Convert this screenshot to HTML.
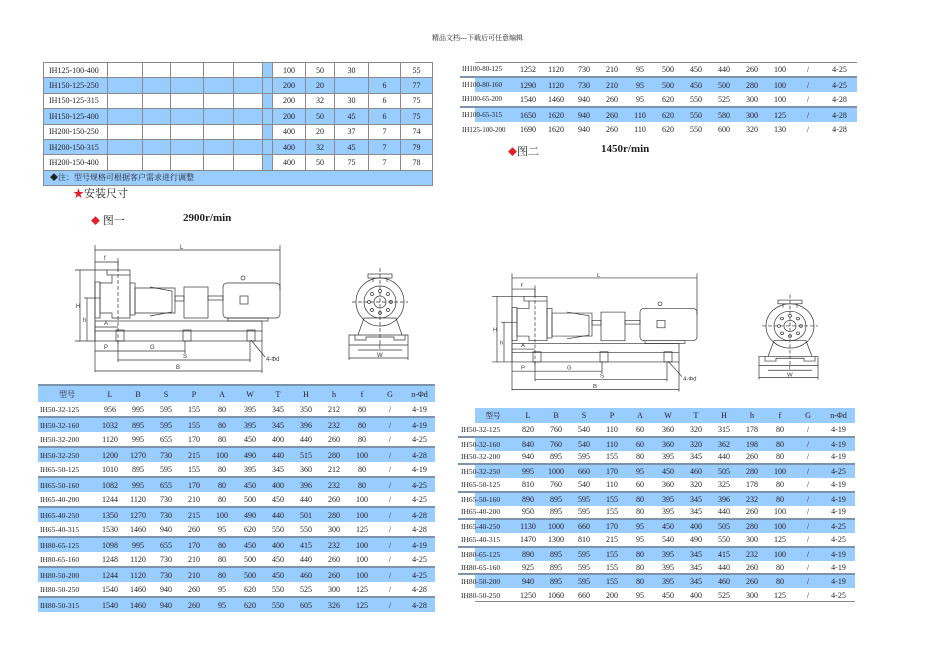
<!DOCTYPE html>
<html><head><meta charset="utf-8">
<style>
*{margin:0;padding:0;box-sizing:border-box}
body{width:950px;height:672px;background:#fff;position:relative;overflow:hidden;font-family:"Liberation Serif","Noto Serif CJK SC",serif;color:#222}
.abs{position:absolute}
table{border-collapse:collapse;table-layout:fixed;position:absolute}
td{font-size:8px;text-align:center;padding:0;white-space:nowrap;overflow:hidden}
.t1 td{border:1px solid #8a8a8a;height:15.4px}
.t1 td.n{text-align:left;padding-left:5px}
.b{background:#99ccff}
.t2 td{height:15px}
.t2 tr.b td{border-top:2px solid #7b93ab}
.t2 td.n{text-align:left;padding-left:2px;font-size:7.5px}
.t3 td{height:13.77px}
.t3 td.n{text-align:left;padding-left:3px;font-size:7.5px}
.t3 tr.b td{background:#99ccff;border-top:2px solid #7b93ab}
.t3 tr.b td.n{background:linear-gradient(90deg,#fff 17px,#99ccff 17px)}
.t3 tr.h td{background:#99ccff;height:15px}
.t3 tr.h td.n{background:linear-gradient(90deg,#fff 17px,#99ccff 17px);text-align:center;padding-left:14px}
.t4 td{height:15px}
.t4 td.n{text-align:left;padding-left:2px;font-size:7px}
.t4 tr.b td{background:#99ccff;border-top:2px solid #7b93ab}
.t4 tr.b td.n{background:linear-gradient(90deg,#fff 15px,#99ccff 15px)}
.lbl{font-size:11px}
.red{color:#e0202a}
</style></head><body>

<div class="abs" style="left:432px;top:33px;font-size:7px;">精品文档---下载后可任意编辑</div>

<table class="t1" style="left:43px;top:62px;width:389px">
<colgroup><col style="width:64px"><col style="width:35px"><col style="width:28px"><col style="width:33px"><col style="width:30px"><col style="width:29px"><col style="width:10px"><col style="width:33px"><col style="width:29px"><col style="width:34px"><col style="width:32px"><col style="width:32px"></colgroup>
<tr><td class="n">IH125-100-400</td><td></td><td></td><td></td><td></td><td></td><td class="b"></td><td>100</td><td>50</td><td>30</td><td></td><td>55</td></tr>
<tr class="b"><td class="n">IH150-125-250</td><td></td><td></td><td></td><td></td><td></td><td></td><td>200</td><td>20</td><td></td><td>6</td><td>77</td></tr>
<tr><td class="n">IH150-125-315</td><td></td><td></td><td></td><td></td><td></td><td class="b"></td><td>200</td><td>32</td><td>30</td><td>6</td><td>75</td></tr>
<tr class="b"><td class="n">IH150-125-400</td><td></td><td></td><td></td><td></td><td></td><td></td><td>200</td><td>50</td><td>45</td><td>6</td><td>75</td></tr>
<tr><td class="n">IH200-150-250</td><td></td><td></td><td></td><td></td><td></td><td class="b"></td><td>400</td><td>20</td><td>37</td><td>7</td><td>74</td></tr>
<tr class="b"><td class="n">IH200-150-315</td><td></td><td></td><td></td><td></td><td></td><td></td><td>400</td><td>32</td><td>45</td><td>7</td><td>79</td></tr>
<tr><td class="n">IH200-150-400</td><td></td><td></td><td></td><td></td><td></td><td class="b"></td><td>400</td><td>50</td><td>75</td><td>7</td><td>78</td></tr>
<tr class="b"><td class="n" colspan="12" style="padding-left:6px">◆注：型号规格可根据客户需求进行调整</td></tr>
</table>

<div class="abs lbl" style="left:73px;top:185px"><span class="red">★</span>安装尺寸</div>
<div class="abs lbl" style="left:91px;top:212px"><span class="red" style="font-size:9px">◆</span> 图一</div>
<div class="abs" style="left:183px;top:212px;font-size:11px;font-weight:bold">2900r/min</div>

<div class="abs" style="left:475px;top:62px;width:382px;border-top:1px solid #888"></div>
<table class="t4" style="left:460px;top:62px;width:397px">
<colgroup><col style="width:54px"><col style="width:28px"><col style="width:28px"><col style="width:28px"><col style="width:28px"><col style="width:28px"><col style="width:28px"><col style="width:28px"><col style="width:28px"><col style="width:28px"><col style="width:28px"><col style="width:28px"><col style="width:35px"></colgroup>
<tr><td class="n">IH100-80-125</td><td>1252</td><td>1120</td><td>730</td><td>210</td><td>95</td><td>500</td><td>450</td><td>440</td><td>260</td><td>100</td><td>/</td><td>4-25</td></tr>
<tr class="b"><td class="n">IH100-80-160</td><td>1290</td><td>1120</td><td>730</td><td>210</td><td>95</td><td>500</td><td>450</td><td>500</td><td>280</td><td>100</td><td>/</td><td>4-25</td></tr>
<tr><td class="n">IH100-65-200</td><td>1540</td><td>1460</td><td>940</td><td>260</td><td>95</td><td>620</td><td>550</td><td>525</td><td>300</td><td>100</td><td>/</td><td>4-28</td></tr>
<tr class="b"><td class="n">IH100-65-315</td><td>1650</td><td>1620</td><td>940</td><td>260</td><td>110</td><td>620</td><td>550</td><td>580</td><td>300</td><td>125</td><td>/</td><td>4-28</td></tr>
<tr><td class="n">IH125-100-200</td><td>1690</td><td>1620</td><td>940</td><td>260</td><td>110</td><td>620</td><td>550</td><td>600</td><td>320</td><td>130</td><td>/</td><td>4-28</td></tr>
</table>
<div class="abs lbl" style="left:508px;top:143px"><span class="red" style="font-size:9px">◆</span>图二</div>
<div class="abs" style="left:601px;top:143px;font-size:11px;font-weight:bold">1450r/min</div>

<table class="t2" style="left:38px;top:384px;width:397px">
<colgroup><col style="width:58px"><col style="width:28px"><col style="width:28px"><col style="width:28px"><col style="width:28px"><col style="width:28px"><col style="width:28px"><col style="width:28px"><col style="width:28px"><col style="width:28px"><col style="width:28px"><col style="width:28px"><col style="width:31px"></colgroup>
<tr class="b"><td style="height:17px">型号</td><td>L</td><td>B</td><td>S</td><td>P</td><td>A</td><td>W</td><td>T</td><td>H</td><td>h</td><td>f</td><td>G</td><td>n-Φd</td></tr>
<tr><td class="n">IH50-32-125</td><td>956</td><td>995</td><td>595</td><td>155</td><td>80</td><td>395</td><td>345</td><td>350</td><td>212</td><td>80</td><td>/</td><td>4-19</td></tr>
<tr class="b"><td class="n">IH50-32-160</td><td>1032</td><td>895</td><td>595</td><td>155</td><td>80</td><td>395</td><td>345</td><td>396</td><td>232</td><td>80</td><td>/</td><td>4-19</td></tr>
<tr><td class="n">IH50-32-200</td><td>1120</td><td>995</td><td>655</td><td>170</td><td>80</td><td>450</td><td>400</td><td>440</td><td>260</td><td>80</td><td>/</td><td>4-25</td></tr>
<tr class="b"><td class="n">IH50-32-250</td><td>1200</td><td>1270</td><td>730</td><td>215</td><td>100</td><td>490</td><td>440</td><td>515</td><td>280</td><td>100</td><td>/</td><td>4-28</td></tr>
<tr><td class="n">IH65-50-125</td><td>1010</td><td>895</td><td>595</td><td>155</td><td>80</td><td>395</td><td>345</td><td>360</td><td>212</td><td>80</td><td>/</td><td>4-19</td></tr>
<tr class="b"><td class="n">IH65-50-160</td><td>1082</td><td>995</td><td>655</td><td>170</td><td>80</td><td>450</td><td>400</td><td>396</td><td>232</td><td>80</td><td>/</td><td>4-25</td></tr>
<tr><td class="n">IH65-40-200</td><td>1244</td><td>1120</td><td>730</td><td>210</td><td>80</td><td>500</td><td>450</td><td>440</td><td>260</td><td>100</td><td>/</td><td>4-25</td></tr>
<tr class="b"><td class="n">IH65-40-250</td><td>1350</td><td>1270</td><td>730</td><td>215</td><td>100</td><td>490</td><td>440</td><td>501</td><td>280</td><td>100</td><td>/</td><td>4-28</td></tr>
<tr><td class="n">IH65-40-315</td><td>1530</td><td>1460</td><td>940</td><td>260</td><td>95</td><td>620</td><td>550</td><td>550</td><td>300</td><td>125</td><td>/</td><td>4-28</td></tr>
<tr class="b"><td class="n">IH80-65-125</td><td>1098</td><td>995</td><td>655</td><td>170</td><td>80</td><td>450</td><td>400</td><td>415</td><td>232</td><td>100</td><td>/</td><td>4-19</td></tr>
<tr><td class="n">IH80-65-160</td><td>1248</td><td>1120</td><td>730</td><td>210</td><td>80</td><td>500</td><td>450</td><td>440</td><td>260</td><td>100</td><td>/</td><td>4-25</td></tr>
<tr class="b"><td class="n">IH80-50-200</td><td>1244</td><td>1120</td><td>730</td><td>210</td><td>80</td><td>500</td><td>450</td><td>460</td><td>260</td><td>100</td><td>/</td><td>4-25</td></tr>
<tr><td class="n">IH80-50-250</td><td>1540</td><td>1460</td><td>940</td><td>260</td><td>95</td><td>620</td><td>550</td><td>525</td><td>300</td><td>125</td><td>/</td><td>4-28</td></tr>
<tr class="b"><td class="n">IH80-50-315</td><td>1540</td><td>1460</td><td>940</td><td>260</td><td>95</td><td>620</td><td>550</td><td>605</td><td>326</td><td>125</td><td>/</td><td>4-28</td></tr>
</table>

<table class="t3" style="left:458px;top:408px;width:397px">
<colgroup><col style="width:56px"><col style="width:28px"><col style="width:28px"><col style="width:28px"><col style="width:28px"><col style="width:28px"><col style="width:28px"><col style="width:28px"><col style="width:28px"><col style="width:28px"><col style="width:28px"><col style="width:28px"><col style="width:33px"></colgroup>
<tr class="h"><td class="n">型号</td><td>L</td><td>B</td><td>S</td><td>P</td><td>A</td><td>W</td><td>T</td><td>H</td><td>h</td><td>f</td><td>G</td><td>n-Φd</td></tr>
<tr><td class="n">IH50-32-125</td><td>820</td><td>760</td><td>540</td><td>110</td><td>60</td><td>360</td><td>320</td><td>315</td><td>178</td><td>80</td><td>/</td><td>4-19</td></tr>
<tr class="b"><td class="n">IH50-32-160</td><td>840</td><td>760</td><td>540</td><td>110</td><td>60</td><td>360</td><td>320</td><td>362</td><td>198</td><td>80</td><td>/</td><td>4-19</td></tr>
<tr><td class="n">IH50-32-200</td><td>940</td><td>895</td><td>595</td><td>155</td><td>80</td><td>395</td><td>345</td><td>440</td><td>260</td><td>80</td><td>/</td><td>4-19</td></tr>
<tr class="b"><td class="n">IH50-32-250</td><td>995</td><td>1000</td><td>660</td><td>170</td><td>95</td><td>450</td><td>460</td><td>505</td><td>280</td><td>100</td><td>/</td><td>4-25</td></tr>
<tr><td class="n">IH65-50-125</td><td>810</td><td>760</td><td>540</td><td>110</td><td>60</td><td>360</td><td>320</td><td>325</td><td>178</td><td>80</td><td>/</td><td>4-19</td></tr>
<tr class="b"><td class="n">IH65-50-160</td><td>890</td><td>895</td><td>595</td><td>155</td><td>80</td><td>395</td><td>345</td><td>396</td><td>232</td><td>80</td><td>/</td><td>4-19</td></tr>
<tr><td class="n">IH65-40-200</td><td>950</td><td>895</td><td>595</td><td>155</td><td>80</td><td>395</td><td>345</td><td>440</td><td>260</td><td>100</td><td>/</td><td>4-19</td></tr>
<tr class="b"><td class="n">IH65-40-250</td><td>1130</td><td>1000</td><td>660</td><td>170</td><td>95</td><td>450</td><td>400</td><td>505</td><td>280</td><td>100</td><td>/</td><td>4-25</td></tr>
<tr><td class="n">IH65-40-315</td><td>1470</td><td>1300</td><td>810</td><td>215</td><td>95</td><td>540</td><td>490</td><td>550</td><td>300</td><td>125</td><td>/</td><td>4-25</td></tr>
<tr class="b"><td class="n">IH80-65-125</td><td>890</td><td>895</td><td>595</td><td>155</td><td>80</td><td>395</td><td>345</td><td>415</td><td>232</td><td>100</td><td>/</td><td>4-19</td></tr>
<tr><td class="n">IH80-65-160</td><td>925</td><td>895</td><td>595</td><td>155</td><td>80</td><td>395</td><td>345</td><td>440</td><td>260</td><td>80</td><td>/</td><td>4-19</td></tr>
<tr class="b"><td class="n">IH80-50-200</td><td>940</td><td>895</td><td>595</td><td>155</td><td>80</td><td>395</td><td>345</td><td>460</td><td>260</td><td>80</td><td>/</td><td>4-19</td></tr>
<tr><td class="n">IH80-50-250</td><td>1250</td><td>1060</td><td>660</td><td>200</td><td>95</td><td>450</td><td>400</td><td>525</td><td>300</td><td>125</td><td>/</td><td>4-25</td></tr>
</table>
<div class="abs" style="left:475px;top:601px;width:380px;border-top:1px solid #888"></div>

<svg class="abs" style="left:0;top:0" width="950" height="672" viewBox="0 0 950 672">
<g id="main1" fill="none" stroke="#333" stroke-width="0.7" font-family="Liberation Sans" font-size="6">
 <g>
 <line x1="95" y1="250" x2="280" y2="250"/><line x1="95" y1="245" x2="95" y2="372"/><line x1="280" y1="245" x2="280" y2="290"/>
 <line x1="95" y1="262" x2="118" y2="262"/><line x1="118" y1="258" x2="118" y2="270"/>
 <rect x="107" y="270" width="23" height="5"/>
 <path d="M112 275 L112 283 L100 283 L100 313 L112 313 L112 318 L130 318 L130 275"/>
 <rect x="95" y="282" width="5" height="36"/>
 <rect x="130" y="283" width="5" height="32"/>
 <path d="M135 288 L175 288 L175 313 L135 313 Z"/>
 <path d="M150 287 L172 291 L172 312 L150 316"/>
 <rect x="175" y="296" width="9" height="5"/><rect x="208" y="296" width="15" height="4"/>
 <rect x="184" y="287" width="24" height="31"/>
 <rect x="223" y="283" width="57" height="35" rx="4"/>
 <rect x="240" y="296" width="8" height="8"/><circle cx="243" cy="278" r="2"/>
 <rect x="228" y="318" width="40" height="3"/>
 <rect x="95" y="321" width="167" height="20"/><line x1="95" y1="331" x2="262" y2="331"/>
 <rect x="116" y="330" width="8" height="11"/><rect x="183" y="330" width="8" height="11"/><rect x="247" y="330" width="8" height="11"/>
 <line x1="75" y1="270" x2="107" y2="270"/><line x1="80" y1="270" x2="80" y2="341"/><line x1="75" y1="341" x2="95" y2="341"/>
 <line x1="84" y1="298" x2="100" y2="298"/><line x1="87" y1="298" x2="87" y2="341"/>
 <line x1="95" y1="327" x2="118" y2="327"/>
 <line x1="95" y1="351" x2="185" y2="351"/><line x1="118" y1="341" x2="118" y2="362"/><line x1="185" y1="341" x2="185" y2="353"/>
 <line x1="118" y1="360" x2="250" y2="360"/><line x1="250" y1="341" x2="250" y2="362"/>
 <line x1="95" y1="371" x2="262" y2="371"/><line x1="262" y1="341" x2="262" y2="373"/>
 <line x1="251" y1="340" x2="265" y2="357"/>
 <line x1="118" y1="262" x2="118" y2="345" stroke-dasharray="4 2"/>
 <g fill="#333" stroke="none">
  <text x="180" y="249">L</text><text x="104" y="260">f</text><text x="76" y="308">H</text><text x="83" y="322">h</text>
  <text x="104" y="325">A</text><text x="104" y="349">P</text><text x="150" y="349">G</text><text x="183" y="358">S</text><text x="176" y="369">B</text><text x="266" y="361">4-Φd</text>
 </g>
 </g>
</g>
<g fill="none" stroke="#333" stroke-width="0.7" font-family="Liberation Sans" font-size="6">
 <line x1="380" y1="268" x2="380" y2="345" stroke-dasharray="4 2"/><line x1="352" y1="302" x2="408" y2="302" stroke-dasharray="4 2"/>
 <rect x="368" y="274" width="24" height="4"/><path d="M373 278 L373 282 M387 278 L387 282"/>
 <circle cx="380" cy="302" r="24"/><circle cx="380" cy="302" r="16"/><circle cx="380" cy="302" r="6"/>
 <g><circle cx="391" cy="302" r="1.5"/><circle cx="369" cy="302" r="1.5"/><circle cx="380" cy="291" r="1.5"/><circle cx="380" cy="313" r="1.5"/><circle cx="388" cy="294" r="1.5"/><circle cx="372" cy="310" r="1.5"/><circle cx="388" cy="310" r="1.5"/><circle cx="372" cy="294" r="1.5"/></g>
 <path d="M358 335 L364 318 L396 318 L402 335"/>
 <path d="M349 335 L408 335 L408 345 L349 345 Z M355 335 L355 340 L366 340 L366 337 L394 337 L394 340 L405 340 L405 335"/>
 <line x1="358" y1="350" x2="402" y2="350"/><line x1="349" y1="358" x2="408" y2="358"/>
 <line x1="349" y1="345" x2="349" y2="360"/><line x1="408" y1="345" x2="408" y2="360"/>
 <g fill="#333" stroke="none"><text x="378" y="349">T</text><text x="377" y="357">W</text></g>
</g>

<g transform="matrix(1,0,0,0.923,417,47.2)" fill="none" stroke="#333" stroke-width="0.7" font-family="Liberation Sans" font-size="6">
 <line x1="95" y1="250" x2="280" y2="250"/><line x1="95" y1="245" x2="95" y2="372"/><line x1="280" y1="245" x2="280" y2="290"/>
 <line x1="95" y1="262" x2="118" y2="262"/><line x1="118" y1="258" x2="118" y2="270"/>
 <rect x="107" y="270" width="23" height="5"/>
 <path d="M112 275 L112 283 L100 283 L100 313 L112 313 L112 318 L130 318 L130 275"/>
 <rect x="95" y="282" width="5" height="36"/>
 <rect x="130" y="283" width="5" height="32"/>
 <path d="M135 288 L175 288 L175 313 L135 313 Z"/>
 <path d="M150 287 L172 291 L172 312 L150 316"/>
 <rect x="175" y="296" width="9" height="5"/><rect x="208" y="296" width="15" height="4"/>
 <rect x="184" y="287" width="24" height="31"/>
 <rect x="223" y="283" width="57" height="35" rx="4"/>
 <rect x="240" y="296" width="8" height="8"/><circle cx="243" cy="278" r="2"/>
 <rect x="228" y="318" width="40" height="3"/>
 <rect x="95" y="321" width="167" height="20"/><line x1="95" y1="331" x2="262" y2="331"/>
 <rect x="116" y="330" width="8" height="11"/><rect x="183" y="330" width="8" height="11"/><rect x="247" y="330" width="8" height="11"/>
 <line x1="75" y1="270" x2="107" y2="270"/><line x1="80" y1="270" x2="80" y2="341"/><line x1="75" y1="341" x2="95" y2="341"/>
 <line x1="84" y1="298" x2="100" y2="298"/><line x1="87" y1="298" x2="87" y2="341"/>
 <line x1="95" y1="327" x2="118" y2="327"/>
 <line x1="95" y1="351" x2="185" y2="351"/><line x1="118" y1="341" x2="118" y2="362"/><line x1="185" y1="341" x2="185" y2="353"/>
 <line x1="118" y1="360" x2="250" y2="360"/><line x1="250" y1="341" x2="250" y2="362"/>
 <line x1="95" y1="371" x2="262" y2="371"/><line x1="262" y1="341" x2="262" y2="373"/>
 <line x1="251" y1="340" x2="265" y2="357"/>
 <line x1="118" y1="262" x2="118" y2="345" stroke-dasharray="4 2"/>
 <g fill="#333" stroke="none">
  <text x="180" y="249">L</text><text x="104" y="260">f</text><text x="76" y="308">H</text><text x="83" y="322">h</text>
  <text x="104" y="325">A</text><text x="104" y="349">P</text><text x="150" y="349">G</text><text x="183" y="358">S</text><text x="176" y="369">B</text><text x="266" y="361">4-Φd</text>
 </g>
</g>
<g transform="matrix(1,0,0,0.923,410,47.2)" fill="none" stroke="#333" stroke-width="0.7" font-family="Liberation Sans" font-size="6">
 <line x1="380" y1="268" x2="380" y2="345" stroke-dasharray="4 2"/><line x1="352" y1="302" x2="408" y2="302" stroke-dasharray="4 2"/>
 <rect x="368" y="274" width="24" height="4"/><path d="M373 278 L373 282 M387 278 L387 282"/>
 <circle cx="380" cy="302" r="24"/><circle cx="380" cy="302" r="16"/><circle cx="380" cy="302" r="6"/>
 <g><circle cx="391" cy="302" r="1.5"/><circle cx="369" cy="302" r="1.5"/><circle cx="380" cy="291" r="1.5"/><circle cx="380" cy="313" r="1.5"/><circle cx="388" cy="294" r="1.5"/><circle cx="372" cy="310" r="1.5"/><circle cx="388" cy="310" r="1.5"/><circle cx="372" cy="294" r="1.5"/></g>
 <path d="M358 335 L364 318 L396 318 L402 335"/>
 <path d="M349 335 L408 335 L408 345 L349 345 Z M355 335 L355 340 L366 340 L366 337 L394 337 L394 340 L405 340 L405 335"/>
 <line x1="358" y1="350" x2="402" y2="350"/><line x1="349" y1="358" x2="408" y2="358"/>
 <line x1="349" y1="345" x2="349" y2="360"/><line x1="408" y1="345" x2="408" y2="360"/>
 <g fill="#333" stroke="none"><text x="378" y="349">T</text><text x="377" y="357">W</text></g>
</g>
</svg>
</body></html>
